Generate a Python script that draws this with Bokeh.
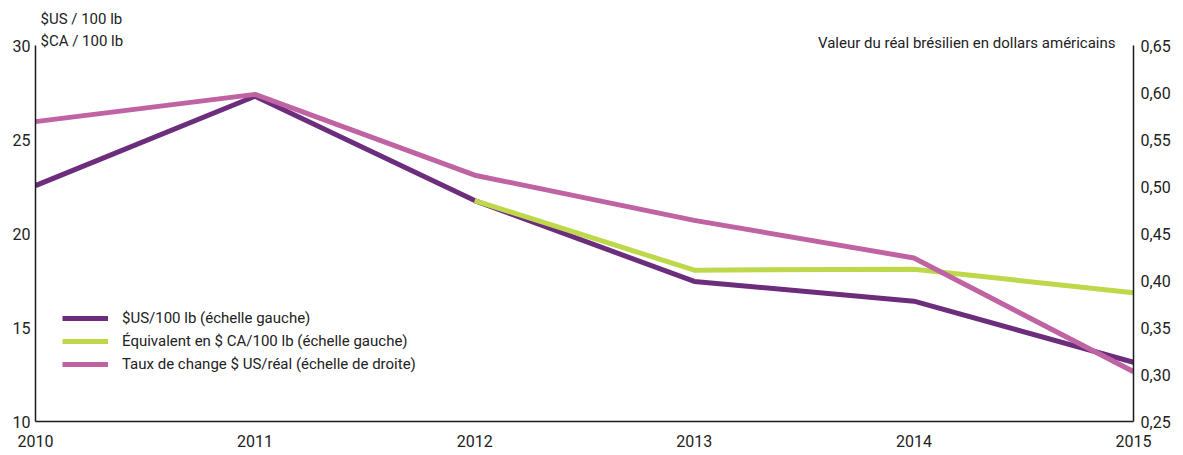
from bokeh.plotting import figure
from bokeh.models import Range1d, LinearAxis, FixedTicker, Legend, LegendItem, Label
from bokeh.embed import file_html
from bokeh.resources import INLINE
import numpy as np

years = [2010, 2011, 2012, 2013, 2014, 2015]
usd_100lb = [22.55, 27.3, 21.75, 17.45, 16.4, 13.15]
cad_100lb = [np.nan, np.nan, 21.75, 18.05, 18.1, 16.85]
usd_per_real = [0.569, 0.598, 0.512, 0.464, 0.424, 0.303]

left_ticks = [10, 15, 20, 25, 30]
right_ticks = [0.25, 0.30, 0.35, 0.40, 0.45, 0.50, 0.55, 0.60, 0.65]
right_tick_labels = ["0,25", "0,30", "0,35", "0,40", "0,45", "0,50", "0,55", "0,60", "0,65"]

legend_labels = ["$US/100 lb (échelle gauche)",
                 "Équivalent en $ CA/100 lb (échelle gauche)",
                 "Taux de change $ US/réal (échelle de droite)"]
colors = ["#6c2d7c", "#bdd84a", "#c063a3"]

FONT = "Roboto"

# layout: axes span 376px (10..30), frame extends to top of canvas (421px)
AX_PX = 376.0
FRAME_PX = 421.0
left_lo, left_hi = 10, 30
right_lo, right_hi = 0.25, 0.65
left_top = left_lo + (left_hi - left_lo) * FRAME_PX / AX_PX
right_top = right_lo + (right_hi - right_lo) * FRAME_PX / AX_PX

p = figure(width=1183, height=455, output_backend="svg", toolbar_location=None,
           x_range=Range1d(2010, 2015), y_range=Range1d(left_lo, left_top),
           min_border_left=35, min_border_right=50, min_border_top=0, min_border_bottom=34)
p.extra_y_ranges = {"right": Range1d(right_lo, right_top)}
p.outline_line_color = None
p.xgrid.visible = False
p.ygrid.visible = False

def style_axis(ax):
    ax.major_tick_out = 0
    ax.major_tick_in = 0
    ax.minor_tick_out = 0
    ax.minor_tick_in = 0
    ax.axis_line_color = "#1a1a1a"
    ax.axis_line_width = 1.5
    ax.major_label_text_font = FONT
    ax.major_label_text_font_size = "16px"
    ax.major_label_text_color = "#222222"

p.xaxis.ticker = FixedTicker(ticks=years)
style_axis(p.xaxis[0])
p.xaxis.major_label_standoff = 13
p.yaxis.ticker = FixedTicker(ticks=left_ticks)
p.yaxis.bounds = (left_lo, left_hi)
style_axis(p.yaxis[0])
p.yaxis.major_label_standoff = 5

rax = LinearAxis(y_range_name="right", ticker=FixedTicker(ticks=right_ticks),
                 bounds=(right_lo, right_hi),
                 major_label_overrides={t: l for t, l in zip(right_ticks, right_tick_labels)})
style_axis(rax)
rax.major_label_standoff = 7
p.add_layout(rax, "right")

r1 = p.line(years, usd_100lb, line_color=colors[0], line_width=5)
r2 = p.line(years, cad_100lb, line_color=colors[1], line_width=5)
r3 = p.line(years, usd_per_real, line_color=colors[2], line_width=5, y_range_name="right")

legend = Legend(items=[LegendItem(label=legend_labels[0], renderers=[r1]),
                       LegendItem(label=legend_labels[1], renderers=[r2]),
                       LegendItem(label=legend_labels[2], renderers=[r3])],
                location=(27, 47), padding=0, margin=0, spacing=3,
                glyph_width=46, glyph_height=20, label_height=20, label_standoff=14,
                label_text_font=FONT, label_text_font_size="15px", label_text_color="#222222",
                background_fill_alpha=0, border_line_color=None)
p.add_layout(legend)

common = dict(x_units="screen", y_units="screen", text_font=FONT, text_font_size="15px",
              text_color="#222222", text_baseline="middle")
p.add_layout(Label(x=5, y=403, text="$US / 100 lb", **common))
p.add_layout(Label(x=5, y=381, text="$CA / 100 lb", **common))
p.add_layout(Label(x=1080, y=379, text="Valeur du réal brésilien en dollars américains",
                   text_align="right", **common))

open("out.html", "w").write(file_html(p, INLINE))
